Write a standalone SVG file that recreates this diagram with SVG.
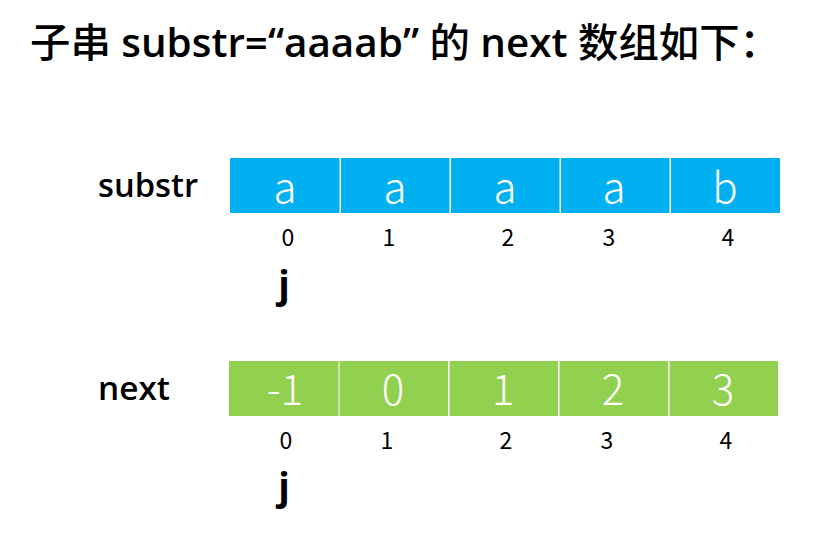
<svg xmlns="http://www.w3.org/2000/svg" width="827" height="539" viewBox="0 0 827 539">
<style>
.title{font-family:"Open Sans","Noto Sans CJK SC",sans-serif;font-size:40px;font-weight:600;fill:#000}
.cjk{font-family:"Noto Sans CJK SC",sans-serif;font-weight:500}
.lbl{font-family:"Open Sans","Noto Sans CJK SC",sans-serif;font-size:32px;font-weight:600;fill:#000}
.cell-b{fill:#00B0F0}
.cell-g{fill:#92D050}
.ct{font-family:"Noto Sans CJK SC","Noto Sans",sans-serif;font-size:42px;font-weight:300;fill:#fff;text-anchor:middle}
.idx{font-family:"Noto Sans CJK SC","Noto Sans",sans-serif;font-size:23px;fill:#000;text-anchor:middle}
.j{font-family:"Open Sans","Noto Sans CJK SC",sans-serif;font-size:38px;font-weight:bold;fill:#000;text-anchor:middle}
</style>
<rect width="827" height="539" fill="#fff"/>
<g id="title">
<text class="title" x="30" y="57" textLength="750" lengthAdjust="spacingAndGlyphs"><tspan class="cjk">子串</tspan> substr=“aaaab” <tspan class="cjk">的</tspan> next <tspan class="cjk">数组如下：</tspan></text>
</g>
<g id="substr-label"><text class="lbl" x="98" y="197" textLength="100" lengthAdjust="spacingAndGlyphs">substr</text></g>
<g id="substr-cells">
<g id="s0"><rect class="cell-b" x="230" y="158" width="109.5" height="55"/><text class="ct" x="285" y="203">a</text></g>
<g id="s1"><rect class="cell-b" x="341" y="158" width="108.5" height="55"/><text class="ct" x="395" y="203">a</text></g>
<g id="s2"><rect class="cell-b" x="451" y="158" width="108.5" height="55"/><text class="ct" x="505" y="203">a</text></g>
<g id="s3"><rect class="cell-b" x="561" y="158" width="108.5" height="55"/><text class="ct" x="614" y="203">a</text></g>
<g id="s4"><rect class="cell-b" x="671" y="158" width="109" height="55"/><text class="ct" x="725" y="203">b</text></g>
</g>
<g id="substr-index">
<text class="idx" x="288" y="246">0</text>
<text class="idx" x="389" y="246">1</text>
<text class="idx" x="508" y="246">2</text>
<text class="idx" x="609" y="246">3</text>
<text class="idx" x="728" y="246">4</text>
</g>
<g id="j1"><text class="j" x="284" y="298">j</text></g>
<g id="next-label"><text class="lbl" x="98" y="400" textLength="72" lengthAdjust="spacingAndGlyphs">next</text></g>
<g id="next-cells">
<g id="n0"><rect class="cell-g" x="229" y="361" width="109.5" height="55"/><text class="ct" x="285" y="405">-1</text></g>
<g id="n1"><rect class="cell-g" x="339.5" y="361" width="108.5" height="55"/><text class="ct" x="393" y="405">0</text></g>
<g id="n2"><rect class="cell-g" x="449.5" y="361" width="108.5" height="55"/><text class="ct" x="503" y="405">1</text></g>
<g id="n3"><rect class="cell-g" x="559.5" y="361" width="108.5" height="55"/><text class="ct" x="613" y="405">2</text></g>
<g id="n4"><rect class="cell-g" x="669.5" y="361" width="108.5" height="55"/><text class="ct" x="723" y="405">3</text></g>
</g>
<g id="next-index">
<text class="idx" x="286" y="449">0</text>
<text class="idx" x="387" y="449">1</text>
<text class="idx" x="506" y="449">2</text>
<text class="idx" x="607" y="449">3</text>
<text class="idx" x="726" y="449">4</text>
</g>
<g id="j2"><text class="j" x="284" y="500">j</text></g>
<g id="connectors"></g>
</svg>
